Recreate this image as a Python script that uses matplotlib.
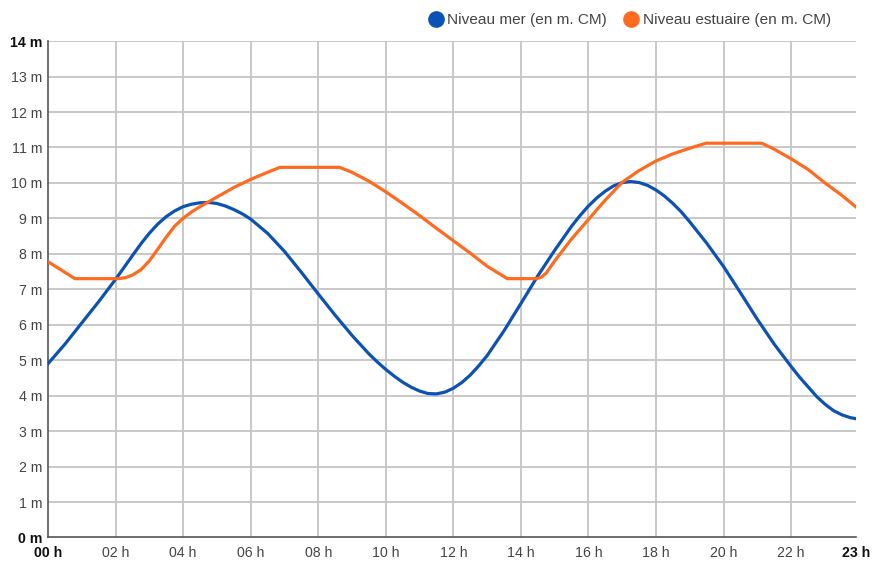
#!/usr/bin/env python3
"""Niveau mer / niveau estuaire sur 24 h."""
import matplotlib
matplotlib.use("Agg")
import matplotlib.pyplot as plt
from matplotlib.lines import Line2D

plt.rcParams["font.family"] = ["Liberation Sans", "DejaVu Sans"]

# heures (décimales) et hauteurs
mer_h = [0.0, 0.5, 1.0, 1.5, 2.0, 2.5, 2.75, 3.0, 3.25, 3.5, 3.75, 4.0, 4.25,
         4.5, 4.75, 5.0, 5.25, 5.5, 5.75, 6.0, 6.5, 7.0, 7.5, 8.0, 8.5, 9.0,
         9.5, 9.75, 10.0, 10.25, 10.5, 10.75, 11.0, 11.25, 11.5, 11.75, 12.0,
         12.25, 12.5, 12.75, 13.0, 13.5, 14.0, 14.5, 15.0, 15.5, 15.75, 16.0,
         16.25, 16.5, 16.75, 17.0, 17.25, 17.5, 17.75, 18.0, 18.25, 18.5,
         18.75, 19.0, 19.5, 20.0, 20.5, 21.0, 21.5, 22.0, 22.25, 22.5, 22.75,
         23.0, 23.25, 23.5, 23.75, 23.92]
mer_m = [4.90, 5.45, 6.05, 6.65, 7.28, 7.95, 8.28, 8.58, 8.84, 9.05, 9.21, 9.33,
         9.40, 9.44, 9.45, 9.42, 9.35, 9.25, 9.13, 8.98, 8.58, 8.07, 7.48, 6.87,
         6.27, 5.70, 5.18, 4.95, 4.74, 4.55, 4.38, 4.24, 4.13, 4.06, 4.05, 4.10,
         4.21, 4.37, 4.58, 4.84, 5.13, 5.83, 6.60, 7.38, 8.10, 8.78, 9.08, 9.35,
         9.58, 9.77, 9.92, 10.01, 10.04, 10.01, 9.93, 9.80, 9.63, 9.42, 9.18,
         8.90, 8.30, 7.64, 6.90, 6.15, 5.45, 4.82, 4.52, 4.25, 3.98, 3.76, 3.58,
         3.46, 3.38, 3.35]

estuaire_h = [0.0, 0.8, 2.1, 2.3, 2.5, 2.75, 3.0, 3.25, 3.5, 3.75, 4.0, 4.25,
              4.5, 5.0, 5.5, 6.0, 6.5, 6.87, 8.63, 9.0, 9.5, 10.0, 10.5, 11.0,
              11.5, 12.0, 12.5, 13.0, 13.6, 14.47, 14.6, 14.75, 15.0, 15.5,
              16.0, 16.5, 17.0, 17.5, 18.0, 18.5, 19.0, 19.48, 21.13, 21.5,
              22.0, 22.5, 23.0, 23.5, 23.92]
estuaire_m = [7.78, 7.30, 7.30, 7.33, 7.40, 7.55, 7.80, 8.13, 8.47, 8.78, 9.00,
              9.18, 9.33, 9.60, 9.87, 10.10, 10.30, 10.44, 10.44, 10.30, 10.05,
              9.75, 9.42, 9.08, 8.72, 8.37, 8.02, 7.65, 7.30, 7.30, 7.34, 7.46,
              7.80, 8.42, 8.97, 9.52, 10.02, 10.35, 10.62, 10.82, 10.98, 11.12,
              11.12, 10.95, 10.68, 10.38, 10.00, 9.65, 9.32]

x_ticks = [0, 2, 4, 6, 8, 10, 12, 14, 16, 18, 20, 22, 23.92]
x_labels = ["00 h", "02 h", "04 h", "06 h", "08 h", "10 h", "12 h", "14 h",
            "16 h", "18 h", "20 h", "22 h", "23 h"]
y_ticks = list(range(0, 15))
y_labels = [f"{v} m" for v in y_ticks]

BLUE = "#0b52b4"
ORANGE = "#ff6a1f"
GRID = "#c4c4c4"

fig = plt.figure(figsize=(8.72, 5.63), dpi=100)
ax = fig.add_axes([0.055, 0.0453, 0.9267, 0.8817])

ax.plot(mer_h, mer_m, color=BLUE, lw=2.3, solid_joinstyle="round", zorder=3)
ax.plot(estuaire_h, estuaire_m, color=ORANGE, lw=2.3, solid_joinstyle="round", zorder=3)

ax.set_xlim(0, 23.92)
ax.set_ylim(0, 14)
ax.set_xticks(x_ticks)
ax.set_xticklabels(x_labels)
ax.set_yticks(y_ticks)
ax.set_yticklabels(y_labels)
ax.tick_params(length=0, labelsize=10.2, labelcolor="#444444")
ax.tick_params(axis="y", pad=4)
ax.tick_params(axis="x", pad=6)
for lbl in (ax.get_xticklabels()[0], ax.get_xticklabels()[-1],
            ax.get_yticklabels()[0], ax.get_yticklabels()[-1]):
    lbl.set_fontweight("bold")
    lbl.set_color("#111111")

# grille : toutes les 2 h et tous les mètres (pas de ligne à la borne droite)
for xv in x_ticks[1:-1]:
    ax.axvline(xv, color=GRID, lw=1.3, zorder=1)
for yv in y_ticks[1:]:
    ax.axhline(yv, color=GRID, lw=1.3, zorder=1)

for side in ("top", "right"):
    ax.spines[side].set_visible(False)
for side in ("left", "bottom"):
    ax.spines[side].set_color("#555555")
    ax.spines[side].set_linewidth(1.2)

handles = [
    Line2D([], [], ls="none", marker="o", ms=11, color=BLUE),
    Line2D([], [], ls="none", marker="o", ms=11, color=ORANGE),
]
fig.legend(handles, ["Niveau mer (en m. CM)", "Niveau estuaire (en m. CM)"],
           loc="center right", bbox_to_anchor=(0.969, 0.9645), ncol=2,
           frameon=False, fontsize=11.1, handlelength=0.9, handletextpad=0.32,
           columnspacing=1.1, labelcolor="#444444")

fig.savefig("out.png", dpi=100)
